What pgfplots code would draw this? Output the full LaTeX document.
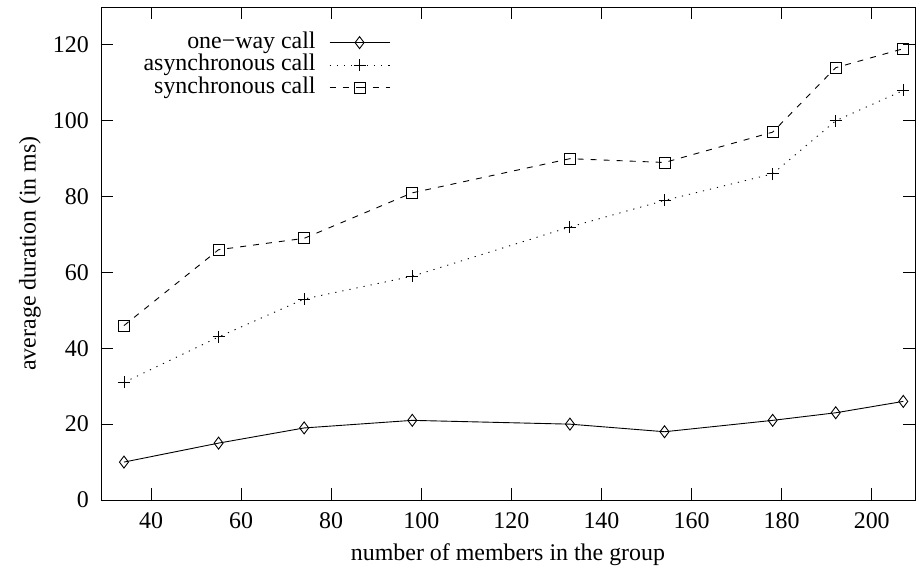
\documentclass[border=0pt]{standalone}
\usepackage{fontspec}
\setmainfont{Liberation Serif}
\usepackage{pgfplots}
\pgfplotsset{compat=1.18}
\begin{document}
\fontsize{24}{26}\selectfont
\begin{tikzpicture}
\useasboundingbox (-101bp,-69bp) rectangle (816bp,500bp);
\begin{axis}[
  at={(0,0)}, anchor=south west,
  scale only axis, width=814bp, height=493bp,
  xmin=28.9, xmax=209.6, ymin=0, ymax=130,
  xtick={40,60,...,200}, ytick={0,20,...,120},
  tick align=inside, major tick length=12bp,
  xtick pos=both, ytick pos=both,
  axis line style={line width=0.9bp},
  every tick/.style={line width=0.9bp, black},
  /pgf/number format/assume math mode=true,
  ticklabel style={font=\fontsize{24}{26}\selectfont},
  xticklabel style={yshift=-4bp},
  yticklabel style={xshift=-4bp},
  xlabel={number of members in the group},
  ylabel={average duration (in ms)},
  label style={font=\fontsize{24}{26}\selectfont},
  xlabel style={yshift=1bp},
  ylabel style={yshift=-4bp},
  legend style={draw=none, fill=none, at={(rel axis cs:0.359,0.955)}, anchor=north east,
     font=\fontsize{24}{26}\selectfont, row sep=0bp,
     nodes={inner ysep=0bp, text height=17bp, text depth=5.5bp}},
  legend cell align=right,
  legend plot pos=right,
  legend image code/.code={\path[draw=none, fill=none] (0bp,-1bp) rectangle (72bp,1bp); \draw[#1] (12bp,0bp) -- (42bp,0bp) (42bp,0bp) -- (72bp,0bp); \path[#1, solid] plot coordinates {(42bp,0bp)};},
]
\addplot[black, line width=0.9bp, mark=diamond, mark size=6bp, mark options={solid, fill=none}] coordinates {
(34,10) (55,15) (74,19) (98,21) (133,20) (154,18) (178,21) (192,23) (207,26)};
\addlegendentry{one−way call}
\addplot[black, line width=0.9bp, dash pattern=on 1.2bp off 6bp, mark=+, mark size=6bp, mark options={solid}] coordinates {
(34,31) (55,43) (74,53) (98,59) (133,72) (154,79) (178,86) (192,100) (207,108)};
\addlegendentry{asynchronous call}
\addplot[black, line width=0.9bp, dash pattern=on 6bp off 7bp, mark=square, mark size=5.5bp, mark options={solid, fill=none}] coordinates {
(34,46) (55,66) (74,69) (98,81) (133,90) (154,89) (178,97) (192,114) (207,119)};
\addlegendentry{synchronous call}
\end{axis}
\end{tikzpicture}
\end{document}
